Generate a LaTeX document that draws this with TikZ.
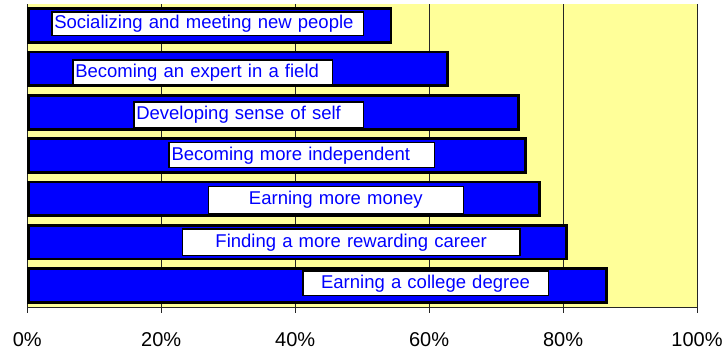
\documentclass[tikz,border=0pt]{standalone}
\usepackage{fontspec}
\setmainfont{Liberation Sans}
\definecolor{plotbg}{RGB}{255,255,153}
\definecolor{barblue}{RGB}{0,0,255}
\begin{document}
\begin{tikzpicture}[x=1pt,y=-1pt,
  bar/.style={draw=black, line width=2.8pt, fill=barblue},
  lblbox/.style={draw=black, line width=1.5pt, fill=white, text=barblue,
    font=\fontsize{18.5}{20}\selectfont, inner xsep=2.5pt, inner ysep=0pt,
    text height=13.5pt, text depth=3.5pt},
  axlbl/.style={font=\fontsize{20}{22}\selectfont, text=black, inner sep=0pt, anchor=base},
  gridline/.style={draw=black!85, line width=1pt}]
\useasboundingbox (0,0) rectangle (725,351);
\fill[plotbg] (27.3,4) rectangle (697,307);
\foreach \p in {20,40,60,80,100}
  \draw[gridline] ({27.3+6.697*\p},4) -- ({27.3+6.697*\p},313);
\draw[gridline] (27.3,4) -- (27.3,313);
\draw[gridline] (27.3,307) -- (697,307);
% bars
\foreach \r [count=\i from 0] in {392.3,449,520,526.7,540.7,568,607.7}
  \draw[bar] (28.7,{25.6+43.3*\i-16.9}) rectangle ({\r-1.4},{25.6+43.3*\i+16.9});
% label boxes
\node[lblbox, minimum width=311.5pt, minimum height=23.5pt, text width=306.5pt, align=left] (l1) at (207.5,23.5) {Socializing and meeting new people};
\node[lblbox, minimum width=259.5pt, minimum height=24.5pt, text width=254.5pt, align=left] (l2) at (202.5,72) {Becoming an expert in a field};
\node[lblbox, minimum width=229.5pt, minimum height=25.5pt, text width=224.5pt, align=left] (l3) at (248.5,114.5) {Developing sense of self};
\node[lblbox, minimum width=265.2pt, minimum height=25.1pt, text width=260.2pt, align=left] (l4) at (301.65,155) {Becoming more independent};
\node[lblbox, minimum width=254.8pt, minimum height=26.8pt, text width=249.8pt, align=center] (l5) at (335.85,199.85) {Earning more money};
\node[lblbox, minimum width=337.5pt, minimum height=26.2pt, text width=332.5pt, align=center] (l6) at (351.2,242.15) {Finding a more rewarding career};
\node[lblbox, minimum width=245.5pt, minimum height=24.5pt, text width=240.5pt, align=center] (l7) at (425.5,283) {Earning a college degree};
% axis labels
\foreach \p [count=\k] in {0,20,40,60,80,100}
  \node[axlbl] (ax\k) at ({27.3+6.697*\p},346) {\p\%};
\end{tikzpicture}
\end{document}
